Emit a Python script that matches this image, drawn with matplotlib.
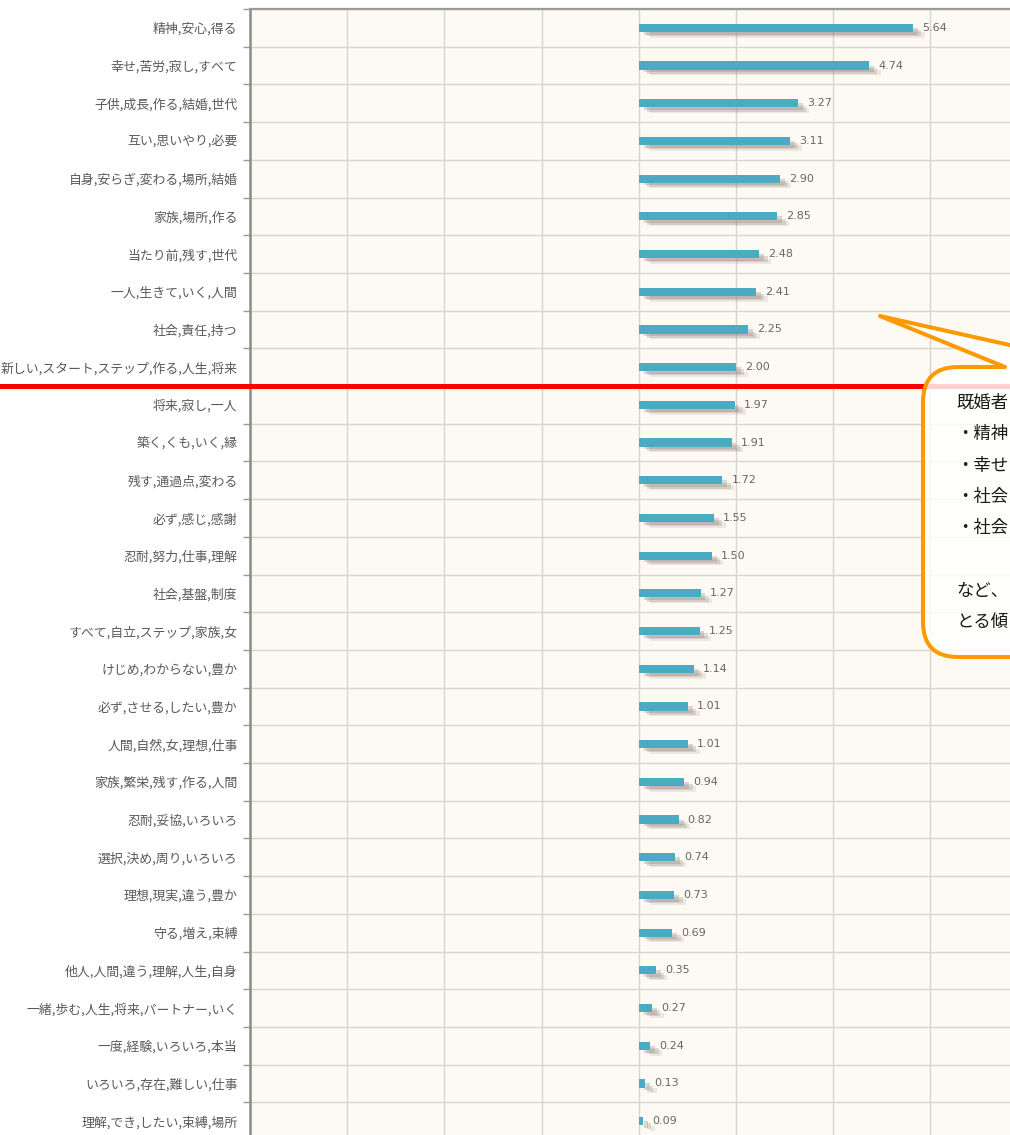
import numpy as np
import matplotlib.pyplot as plt
from matplotlib.path import Path
from matplotlib.patches import PathPatch

plt.rcParams['font.family'] = ['Noto Sans CJK JP', 'DejaVu Sans']

# keyword groups and their scores (top to bottom)
labels = [
    '精神,安心,得る',
    '幸せ,苦労,寂し,すべて',
    '子供,成長,作る,結婚,世代',
    '互い,思いやり,必要',
    '自身,安らぎ,変わる,場所,結婚',
    '家族,場所,作る',
    '当たり前,残す,世代',
    '一人,生きて,いく,人間',
    '社会,責任,持つ',
    '新しい,スタート,ステップ,作る,人生,将来',
    '将来,寂し,一人',
    '築く,くも,いく,縁',
    '残す,通過点,変わる',
    '必ず,感じ,感謝',
    '忍耐,努力,仕事,理解',
    '社会,基盤,制度',
    'すべて,自立,ステップ,家族,女',
    'けじめ,わからない,豊か',
    '必ず,させる,したい,豊か',
    '人間,自然,女,理想,仕事',
    '家族,繁栄,残す,作る,人間',
    '忍耐,妥協,いろいろ',
    '選択,決め,周り,いろいろ',
    '理想,現実,違う,豊か',
    '守る,増え,束縛',
    '他人,人間,違う,理解,人生,自身',
    '一緒,歩む,人生,将来,パートナー,いく',
    '一度,経験,いろいろ,本当',
    'いろいろ,存在,難しい,仕事',
    '理解,でき,したい,束縛,場所',
]
values = [5.64, 4.74, 3.27, 3.11, 2.90, 2.85, 2.48, 2.41, 2.25, 2.00,
          1.97, 1.91, 1.72, 1.55, 1.50, 1.27, 1.25, 1.14, 1.01, 1.01,
          0.94, 0.82, 0.74, 0.73, 0.69, 0.35, 0.27, 0.24, 0.13, 0.09]
x_ticks = [-8, -6, -4, -2, 0, 2, 4, 6]
split_after = 10  # red line drawn under the first 10 groups

# callout text as far as it is visible in the cropped picture
callout_lines = ['既婚者', '・精神', '・幸せ', '・社会', '・社会', '', 'など、', 'とる傾']

W, H = 1010, 1135
fig = plt.figure(figsize=(W / 100, H / 100), dpi=100)
fig.patch.set_facecolor('white')

# axes geometry in pixels
ax_left, ax_top = 250, 9
row_h = 37.7
px_per_unit = 48.6
n = len(labels)
ax_bot = ax_top + n * row_h
ax = fig.add_axes([ax_left / W, 1 - ax_bot / H, 1 - ax_left / W, (ax_bot - ax_top) / H])
ax.set_facecolor('#fdfaf3')
ax.set_xlim(-8, -8 + (W - ax_left) / px_per_unit)
ax.set_ylim(n - 0.5, -0.5)

y = np.arange(n)
# soft drop shadow, then the bars
ax.barh(y + 0.19, values, left=0.24, height=0.14, color='#8f8079', alpha=0.15, lw=0, zorder=2)
ax.barh(y + 0.14, values, left=0.17, height=0.16, color='#8f8079', alpha=0.25, lw=0, zorder=2)
ax.barh(y + 0.09, values, left=0.1, height=0.18, color='#8f8079', alpha=0.3, lw=0, zorder=2)
ax.barh(y, values, height=0.22, color='#4aabc3', lw=0, zorder=3)

for yi, v in zip(y, values):
    ax.annotate(f'{v:.2f}', (v, yi), xytext=(6.5, 0), textcoords='offset points',
                va='center', ha='left', fontsize=8, color='#666666',
                family='DejaVu Sans', zorder=4)

ax.set_yticks(y)
ax.set_yticklabels(labels, fontsize=9.3, color='#5a5a5a')
ax.tick_params(axis='y', which='major', length=0, pad=9)
ax.set_yticks(np.arange(-0.5, n - 0.5, 1), minor=True)
ax.tick_params(axis='y', which='minor', length=5, width=1, color='#999999')
ax.set_xticks(x_ticks)
ax.tick_params(axis='x', length=0, labelbottom=False)
ax.grid(True, which='minor', axis='y', color='#d9d5cc', lw=1)
ax.grid(True, which='major', axis='x', color='#d9d5cc', lw=1)
ax.grid(False, which='major', axis='y')
ax.set_axisbelow(True)

ax.spines['left'].set_color('#8c8c8c')
ax.spines['left'].set_linewidth(1.8)
ax.spines['top'].set_color('#9a9a9a')
ax.spines['top'].set_linewidth(1.6)
ax.spines['right'].set_visible(False)
ax.spines['bottom'].set_visible(False)

# red separator line across labels and plot
ax.axhline(split_after - 0.5, xmin=-ax_left / (W - ax_left), xmax=1,
           color='#ff0000', lw=3.6, clip_on=False, zorder=5)

# callout overlay in pixel coordinates
ov = fig.add_axes([0, 0, 1, 1])
ov.set_xlim(0, W)
ov.set_ylim(H, 0)
ov.axis('off')
ov.patch.set_alpha(0)

L, T, B, R, r = 923, 367, 657, 1250, 35
tip = (880, 316)
verts = [(1005, T), tip, (1108, T), (R, T), (R, B), (L + r, B), (L, B), (L, B - r),
         (L, T + r), (L, T), (L + r, T), (1005, T)]
codes = [Path.MOVETO, Path.LINETO, Path.LINETO, Path.LINETO, Path.LINETO, Path.LINETO,
         Path.CURVE3, Path.CURVE3, Path.LINETO, Path.CURVE3, Path.CURVE3, Path.CLOSEPOLY]
ov.add_patch(PathPatch(Path(verts, codes), fc=(1, 1, 1, 0.82), ec='#ff9900',
                       lw=2.9, joinstyle='round', zorder=6))

for i, line in enumerate(callout_lines):
    ov.text(956, 403 + i * 31.3, line, fontsize=12.5, color='#1a1a1a',
            va='center', ha='left', zorder=7)

fig.savefig('out.png', dpi=100)
